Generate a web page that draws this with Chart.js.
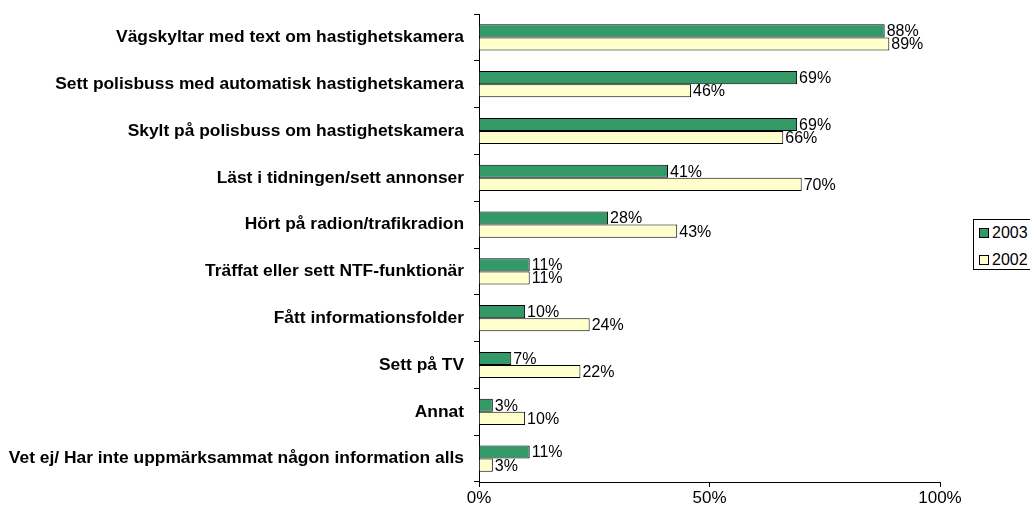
<!DOCTYPE html>
<html>
<head>
<meta charset="utf-8">
<script src="https://cdn.jsdelivr.net/npm/chart.js@4"></script>
<style>
  html, body { margin: 0; padding: 0; background: #fff; }
  #wrap { position: relative; width: 1030px; height: 506px; overflow: hidden; }
  #legend {
    position: absolute; left: 973px; top: 219px; width: 80px; height: 51px;
    border: 1px solid #000; background: #fff; box-sizing: border-box;
    font: 16px "Liberation Sans", Arial, sans-serif; color: #000;
  }
  #legend .item { position: absolute; left: 5px; height: 18px; line-height: 18px; white-space: nowrap; }
  #legend .sw { display: inline-block; width: 8px; height: 8px; border: 1px solid #000; vertical-align: middle; margin-right: 3px; position: relative; top: -1px; }
</style>
</head>
<body>
<div id="wrap">
  <canvas id="chart" width="1030" height="506"></canvas>
  <div id="legend">
    <div class="item" style="top:4px"><span class="sw" style="background:#339966"></span>2003</div>
    <div class="item" style="top:31px"><span class="sw" style="background:#FFFFCC"></span>2002</div>
  </div>
</div>
<script>
// data
const categories = [
  "Vägskyltar med text om hastighetskamera",
  "Sett polisbuss med automatisk hastighetskamera",
  "Skylt på polisbuss om hastighetskamera",
  "Läst i tidningen/sett annonser",
  "Hört på radion/trafikradion",
  "Träffat eller sett NTF-funktionär",
  "Fått informationsfolder",
  "Sett på TV",
  "Annat",
  "Vet ej/ Har inte uppmärksammat någon information alls"
];
const values2003 = [88, 69, 69, 41, 28, 11, 10, 7, 3, 11];
const values2002 = [89, 46, 66, 70, 43, 11, 24, 22, 10, 3];
const xTicks = [0, 50, 100];

const FONT = "'Liberation Sans', Arial, sans-serif";

// draws "NN%" right after each bar
const valueLabels = {
  id: "valueLabels",
  afterDatasetsDraw(chart) {
    const ctx = chart.ctx;
    ctx.save();
    ctx.font = "16px " + FONT;
    ctx.fillStyle = "#000";
    ctx.textAlign = "left";
    ctx.textBaseline = "middle";
    chart.data.datasets.forEach((ds, di) => {
      chart.getDatasetMeta(di).data.forEach((bar, i) => {
        ctx.fillText(ds.data[i] + "%", bar.x + 2, bar.y + 1);
      });
    });
    ctx.restore();
  }
};

new Chart(document.getElementById("chart"), {
  type: "bar",
  data: {
    labels: categories,
    datasets: [
      { label: "2003", data: values2003, backgroundColor: "#339966", borderColor: "#000", borderWidth: 1, borderSkipped: "left" },
      { label: "2002", data: values2002, backgroundColor: "#FFFFCC", borderColor: "#000", borderWidth: 1, borderSkipped: "left" }
    ]
  },
  options: {
    indexAxis: "y",
    responsive: false,
    animation: false,
    layout: { padding: { top: 14, right: 90, left: 0, bottom: 0 } },
    datasets: { bar: { categoryPercentage: 0.56, barPercentage: 1 } },
    plugins: { legend: { display: false }, tooltip: { enabled: false } },
    scales: {
      x: {
        min: 0, max: 100,
        afterBuildTicks(scale) { scale.ticks = xTicks.map(v => ({ value: v })); },
        afterFit(scale) { scale.height = 24; scale.paddingLeft = 0; scale.paddingRight = 0; },
        ticks: { callback: v => v + "%", color: "#000", font: { family: FONT, size: 17 }, padding: 1, maxRotation: 0 },
        grid: { drawOnChartArea: false, tickLength: 5, color: "#000" },
        border: { color: "#000", width: 1 }
      },
      y: {
        afterFit(scale) { scale.width = 479; scale.paddingTop = 0; scale.paddingBottom = 0; },
        ticks: { color: "#000", font: { family: FONT, size: 17.4, weight: "bold" }, padding: 10 },
        grid: { drawOnChartArea: false, tickLength: 5, color: "#000", offset: true },
        border: { color: "#000", width: 1 }
      }
    }
  },
  plugins: [valueLabels]
});
</script>
</body>
</html>
